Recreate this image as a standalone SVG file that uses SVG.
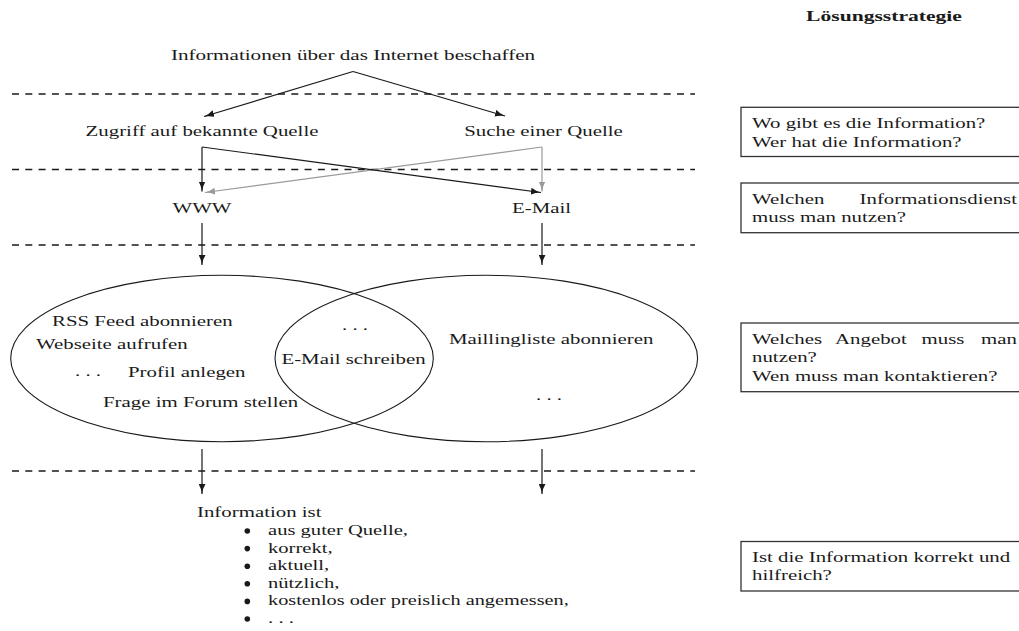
<svg xmlns="http://www.w3.org/2000/svg" width="1019" height="631" viewBox="0 0 1019 631">
  <style>
    .t { font-family: "Liberation Serif", "Times New Roman", serif; font-size: 14px; fill: #1a1a1a; }
    .b { font-weight: bold; font-size: 14.5px; }
    .m { text-anchor: middle; }
    .e { text-anchor: end; }
    .sep { stroke: #1a1a1a; stroke-width: 1.3; stroke-dasharray: 7 6.3; fill: none; }
    .set { fill: none; stroke: #1a1a1a; stroke-width: 1.1; }
    .box { fill: #ffffff; stroke: #333333; stroke-width: 1.3; }
    .dark { stroke: #1a1a1a; stroke-width: 1.2; fill: none; marker-end: url(#tipDark); }
    .grey { stroke: #9a9a9a; stroke-width: 1.2; fill: none; marker-end: url(#tipGrey); }
  </style>
  <defs>
    <marker id="tipDark" viewBox="0 0 10 7" markerWidth="10" markerHeight="7" refX="10" refY="3.5" orient="auto" markerUnits="userSpaceOnUse">
      <path d="M0,0 Q4,2.6 10,3.5 Q4,4.4 0,7 z" fill="#1a1a1a"/>
    </marker>
    <marker id="tipGrey" viewBox="0 0 10 7" markerWidth="10" markerHeight="7" refX="10" refY="3.5" orient="auto" markerUnits="userSpaceOnUse">
      <path d="M0,0 Q4,2.6 10,3.5 Q4,4.4 0,7 z" fill="#9a9a9a"/>
    </marker>
  </defs>

  <rect width="1019" height="631" fill="#ffffff"/>

  <!-- level separators -->
  <g id="separators">
    <line class="sep" x1="12" y1="94" x2="695" y2="94"/>
    <line class="sep" x1="12" y1="169.5" x2="695" y2="169.5"/>
    <line class="sep" x1="12" y1="245" x2="695" y2="245"/>
    <line class="sep" x1="12" y1="471" x2="695" y2="471"/>
  </g>

  <!-- connectors -->
  <g id="connectors">
    <line class="dark" x1="353" y1="71.5" x2="204" y2="116.5"/>
    <line class="dark" x1="353" y1="71.5" x2="505" y2="116"/>
    <line class="grey" x1="542" y1="147" x2="542" y2="191.5"/>
    <line class="grey" x1="542" y1="147" x2="205" y2="192.5"/>
    <line class="dark" x1="202" y1="147" x2="202" y2="191.5"/>
    <line class="dark" x1="202" y1="147" x2="541" y2="192.5"/>
    <line class="dark" x1="202" y1="223" x2="202" y2="265"/>
    <line class="dark" x1="542" y1="223" x2="542" y2="265"/>
    <line class="dark" x1="202" y1="449" x2="202" y2="494"/>
    <line class="dark" x1="542" y1="449" x2="542" y2="494"/>
  </g>

  <!-- header -->
  <g id="title">
    <text class="t b m" transform="translate(884,20.5) scale(1.49,1)">Lösungsstrategie</text>
  </g>

  <!-- goal -->
  <g id="goal">
    <text class="t m" transform="translate(353,60) scale(1.51,1)">Informationen über das Internet beschaffen</text>
  </g>

  <!-- source level -->
  <g id="known-source">
    <text class="t m" transform="translate(202,136) scale(1.49,1)">Zugriff auf bekannte Quelle</text>
  </g>
  <g id="search-source">
    <text class="t m" transform="translate(543.5,136) scale(1.49,1)">Suche einer Quelle</text>
  </g>

  <!-- service level -->
  <g id="www">
    <text class="t m" transform="translate(202,213) scale(1.49,1)">WWW</text>
  </g>
  <g id="email">
    <text class="t m" transform="translate(541.5,213) scale(1.49,1)">E-Mail</text>
  </g>

  <!-- offers -->
  <g id="www-offers">
    <ellipse class="set" cx="222" cy="358.5" rx="211.3" ry="83.2"/>
    <text class="t" transform="translate(52,325.5) scale(1.49,1)">RSS Feed abonnieren</text>
    <text class="t" transform="translate(36,349) scale(1.49,1)">Webseite aufrufen</text>
    <text class="t" transform="translate(75,376) scale(1.49,1)">. . .</text>
    <text class="t" transform="translate(128,376.5) scale(1.49,1)">Profil anlegen</text>
    <text class="t" transform="translate(103,407) scale(1.49,1)">Frage im Forum stellen</text>
  </g>
  <g id="email-offers">
    <ellipse class="set" cx="486.3" cy="358.5" rx="211.3" ry="83.2"/>
    <text class="t" transform="translate(449,344) scale(1.49,1)">Maillingliste abonnieren</text>
    <text class="t" transform="translate(536,400) scale(1.49,1)">. . .</text>
  </g>
  <g id="shared-offers">
    <text class="t" transform="translate(342,330) scale(1.49,1)">. . .</text>
    <text class="t m" transform="translate(353.5,364) scale(1.49,1)">E-Mail schreiben</text>
  </g>

  <!-- result -->
  <g id="result">
    <text class="t" transform="translate(197,517) scale(1.49,1)">Information ist</text>
    <g fill="#1a1a1a">
      <circle cx="247.3" cy="531" r="2.8"/>
      <circle cx="247.3" cy="548.6" r="2.8"/>
      <circle cx="247.3" cy="566.2" r="2.8"/>
      <circle cx="247.3" cy="583.8" r="2.8"/>
      <circle cx="247.3" cy="601.4" r="2.8"/>
      <circle cx="247.3" cy="619" r="2.8"/>
    </g>
    <text class="t" transform="translate(268,535) scale(1.47,1)">aus guter Quelle,</text>
    <text class="t" transform="translate(268,552.6) scale(1.47,1)">korrekt,</text>
    <text class="t" transform="translate(268,570.2) scale(1.47,1)">aktuell,</text>
    <text class="t" transform="translate(268,587.8) scale(1.47,1)">nützlich,</text>
    <text class="t" transform="translate(268,605.4) scale(1.45,1)">kostenlos oder preislich angemessen,</text>
    <text class="t" transform="translate(268,623) scale(1.49,1)">. . .</text>
  </g>

  <!-- strategy questions -->
  <g id="question-source">
    <rect class="box" x="741" y="107.3" width="300" height="49.2"/>
    <text class="t" transform="translate(752,128.3) scale(1.49,1)">Wo gibt es die Information?</text>
    <text class="t" transform="translate(752,146.7) scale(1.49,1)">Wer hat die Information?</text>
  </g>
  <g id="question-service">
    <rect class="box" x="741" y="183" width="300" height="49.7"/>
    <text class="t" transform="translate(752,204.2) scale(1.49,1)">Welchen</text>
    <text class="t e" transform="translate(1017,204.2) scale(1.49,1)">Informationsdienst</text>
    <text class="t" transform="translate(752,222) scale(1.49,1)">muss man nutzen?</text>
  </g>
  <g id="question-offer">
    <rect class="box" x="741" y="323" width="300" height="68.7"/>
    <text class="t" transform="translate(752,344) scale(1.49,1)">Welches</text>
    <text class="t" transform="translate(835,344) scale(1.49,1)">Angebot</text>
    <text class="t" transform="translate(921.5,344) scale(1.49,1)">muss</text>
    <text class="t e" transform="translate(1017,344) scale(1.49,1)">man</text>
    <text class="t" transform="translate(752,362.4) scale(1.49,1)">nutzen?</text>
    <text class="t" transform="translate(752,380.8) scale(1.49,1)">Wen muss man kontaktieren?</text>
  </g>
  <g id="question-quality">
    <rect class="box" x="741" y="541.5" width="300" height="49.5"/>
    <text class="t" transform="translate(752,562) scale(1.49,1)">Ist die Information korrekt und</text>
    <text class="t" transform="translate(752,580.4) scale(1.49,1)">hilfreich?</text>
  </g>
</svg>
